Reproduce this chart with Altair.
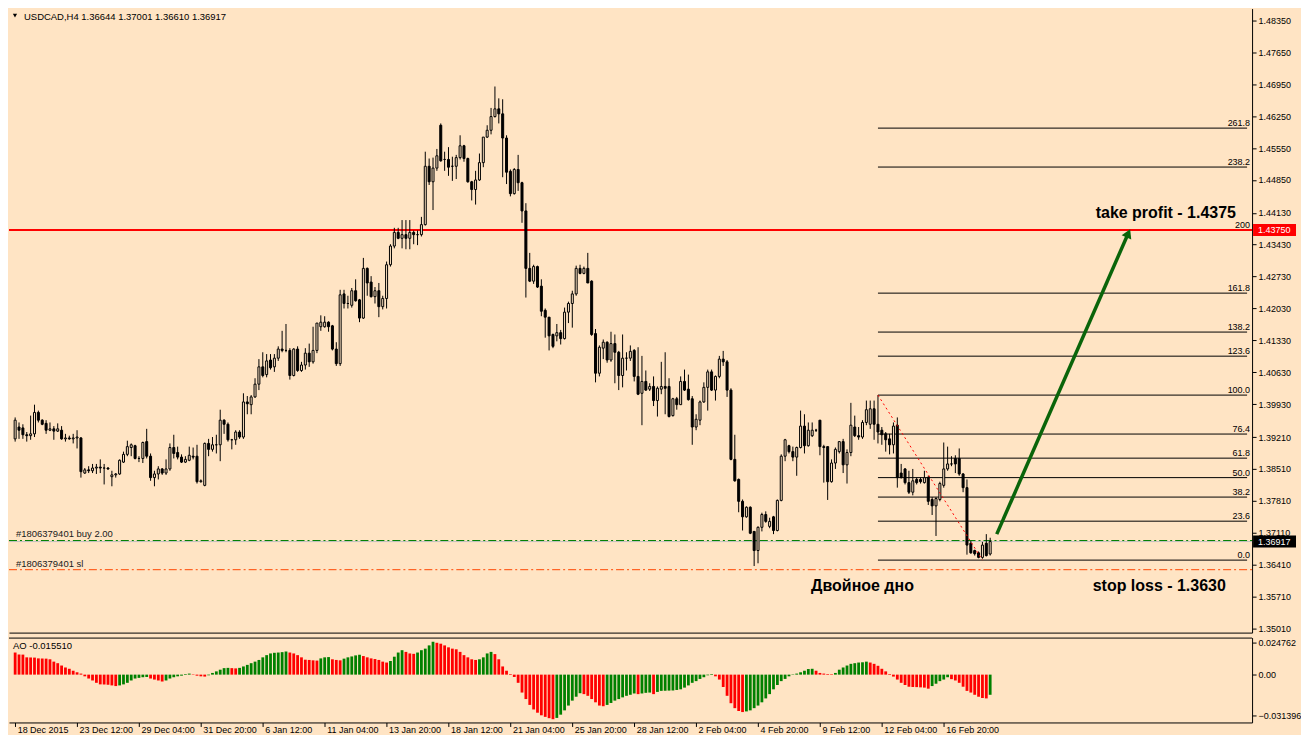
import altair as alt
import pandas as pd

# ---------------- data ----------------
opens = [1.3917,1.3943,1.3941,1.3926,1.3924,1.3928,1.3975,1.3958,1.3951,1.3936,1.3939,1.3934,1.3936,1.3917,1.3919,1.3917,1.3919,1.3919,1.3842,1.3849,
1.3847,1.3853,1.3855,1.3853,1.3853,1.3834,1.3838,1.3840,1.3866,1.3883,1.3898,1.3902,1.3874,1.3874,1.3911,1.3879,1.3832,1.3840,1.3851,1.3842,
1.3851,1.3898,1.3887,1.3877,1.3866,1.3870,1.3879,1.3879,1.3823,1.3815,1.3907,1.3894,1.3904,1.3904,1.3958,1.3949,1.3915,1.3915,1.3932,1.3921,
1.3998,1.3992,1.4009,1.4037,1.4075,1.4058,1.4090,1.4075,1.4094,1.4114,1.4111,1.4111,1.4056,1.4114,1.4067,1.4079,1.4105,1.4086,1.4111,1.4163,
1.4163,1.4173,1.4165,1.4114,1.4082,1.4235,1.4214,1.4210,1.4242,1.4222,1.4182,1.4291,1.4261,1.4229,1.4242,1.4207,1.4225,1.4299,1.4340,1.4370,
1.4357,1.4365,1.4357,1.4370,1.4365,1.4365,1.4387,1.4515,1.4481,1.4511,1.4605,1.4530,1.4530,1.4515,1.4515,1.4534,1.4560,1.4532,1.4481,1.4464,
1.4485,1.4523,1.4579,1.4594,1.4624,1.4641,1.4630,1.4577,1.4504,1.4455,1.4508,1.4479,1.4417,1.4291,1.4263,1.4295,1.4252,1.4199,1.4184,1.4146,
1.4143,1.4150,1.4137,1.4195,1.4214,1.4235,1.4291,1.4280,1.4291,1.4263,1.4148,1.4061,1.4116,1.4129,1.4090,1.4126,1.4107,1.4056,1.4094,1.4094,
1.4111,1.4054,1.4017,1.4043,1.4026,1.4032,1.4001,1.4026,1.4032,1.4032,1.3968,1.4005,1.3992,1.4043,1.4026,1.4005,1.3943,1.3958,1.3998,1.4030,
1.4064,1.4024,1.4054,1.4092,1.4086,1.4024,1.3872,1.3828,1.3780,1.3746,1.3767,1.3714,1.3672,1.3723,1.3751,1.3725,1.3746,1.3716,1.3782,1.3879,
1.3902,1.3889,1.3877,1.3898,1.3945,1.3902,1.3924,1.3936,1.3958,1.3900,1.3900,1.3823,1.3864,1.3889,1.3911,1.3860,1.3887,1.3943,1.3924,1.3921,
1.3953,1.3949,1.3983,1.3949,1.3936,1.3928,1.3917,1.3904,1.3947,1.3842,1.3851,1.3821,1.3800,1.3828,1.3828,1.3821,1.3832,1.3784,1.3770,1.3784,
1.3815,1.3851,1.3862,1.3874,1.3874,1.3840,1.3810,1.3688,1.3672,1.3667,1.3657,1.3688,1.36644]
highs = [1.3964,1.3953,1.3949,1.3932,1.3968,1.3992,1.3979,1.3960,1.3958,1.3953,1.3945,1.3951,1.3945,1.3928,1.3924,1.3928,1.3936,1.3921,1.3853,1.3857,
1.3862,1.3862,1.3872,1.3862,1.3855,1.3847,1.3842,1.3872,1.3889,1.3913,1.3907,1.3904,1.3879,1.3911,1.3939,1.3885,1.3847,1.3857,1.3853,1.3872,
1.3907,1.3926,1.3900,1.3883,1.3879,1.3900,1.3898,1.3904,1.3828,1.3909,1.3917,1.3921,1.3926,1.3981,1.3960,1.3953,1.3917,1.3936,1.3936,1.4017,
1.4011,1.4013,1.4050,1.4092,1.4107,1.4103,1.4103,1.4103,1.4120,1.4154,1.4169,1.4116,1.4116,1.4120,1.4086,1.4116,1.4126,1.4163,1.4171,1.4188,
1.4186,1.4175,1.4167,1.4129,1.4244,1.4244,1.4231,1.4248,1.4267,1.4224,1.4314,1.4293,1.4274,1.4250,1.4259,1.4231,1.4306,1.4344,1.4380,1.4380,
1.4397,1.4397,1.4397,1.4374,1.4374,1.4404,1.4547,1.4532,1.4534,1.4553,1.4609,1.4547,1.4557,1.4536,1.4540,1.4583,1.4562,1.4534,1.4483,1.4505,
1.4543,1.4579,1.4605,1.4643,1.4690,1.4664,1.4662,1.4583,1.4508,1.4511,1.4540,1.4481,1.4434,1.4325,1.4299,1.4297,1.4267,1.4203,1.4184,1.4148,
1.4169,1.4156,1.4205,1.4218,1.4242,1.4297,1.4299,1.4295,1.4325,1.4265,1.4158,1.4122,1.4135,1.4131,1.4152,1.4146,1.4110,1.4146,1.4107,1.4122,
1.4114,1.4118,1.4099,1.4067,1.4039,1.4054,1.4032,1.4086,1.4107,1.4050,1.4007,1.4009,1.4054,1.4069,1.4058,1.4011,1.3971,1.4001,1.4041,1.4069,
1.4069,1.4056,1.4099,1.4110,1.4090,1.4028,1.3926,1.3830,1.3784,1.3769,1.3769,1.3714,1.3725,1.3755,1.3758,1.3744,1.3748,1.3784,1.3883,1.3917,
1.3904,1.3900,1.3900,1.3979,1.3971,1.3953,1.3953,1.3939,1.3958,1.3904,1.3900,1.3872,1.3898,1.3911,1.3917,1.3894,1.3996,1.3968,1.3943,1.3958,
1.4001,1.4001,1.4001,1.4013,1.3943,1.3932,1.3928,1.3953,1.3964,1.3862,1.3853,1.3847,1.3851,1.3832,1.3832,1.3847,1.3836,1.3789,1.3789,1.3823,
1.3909,1.3900,1.3879,1.3881,1.3896,1.3842,1.3828,1.3693,1.3674,1.3670,1.3691,1.3708,1.37001]
lows = [1.3911,1.3917,1.3917,1.3911,1.3915,1.3921,1.3953,1.3947,1.3928,1.3934,1.3915,1.3932,1.3915,1.3911,1.3915,1.3907,1.3896,1.3832,1.3840,1.3842,
1.3842,1.3840,1.3842,1.3817,1.3849,1.3813,1.3832,1.3838,1.3864,1.3879,1.3879,1.3872,1.3866,1.3864,1.3874,1.3825,1.3813,1.3828,1.3838,1.3838,
1.3847,1.3874,1.3872,1.3864,1.3864,1.3868,1.3872,1.3819,1.3821,1.3813,1.3879,1.3889,1.3885,1.3868,1.3928,1.3911,1.3894,1.3904,1.3917,1.3917,
1.3971,1.3971,1.4007,1.4024,1.4052,1.4052,1.4069,1.4064,1.4088,1.4107,1.4107,1.4047,1.4054,1.4064,1.4064,1.4069,1.4075,1.4082,1.4105,1.4154,
1.4161,1.4152,1.4111,1.4077,1.4077,1.4203,1.4203,1.4205,1.4218,1.4173,1.4180,1.4231,1.4227,1.4214,1.4184,1.4201,1.4203,1.4295,1.4335,1.4355,
1.4335,1.4333,1.4333,1.4344,1.4342,1.4361,1.4385,1.4474,1.4419,1.4505,1.4525,1.4505,1.4494,1.4483,1.4487,1.4530,1.4525,1.4479,1.4440,1.4431,
1.4483,1.4513,1.4577,1.4585,1.4622,1.4609,1.4491,1.4476,1.4449,1.4453,1.4461,1.4391,1.4227,1.4261,1.4257,1.4248,1.4186,1.4139,1.4111,1.4116,
1.4131,1.4124,1.4135,1.4171,1.4161,1.4231,1.4278,1.4278,1.4259,1.4143,1.4041,1.4054,1.4092,1.4084,1.4086,1.4039,1.4024,1.4030,1.4067,1.4088,
1.4043,1.4013,1.3947,1.4022,1.4022,1.3989,1.3966,1.4015,1.3971,1.3964,1.3966,1.3981,1.3992,1.4022,1.4001,1.3904,1.3936,1.3947,1.3996,1.3979,
1.4022,1.4001,1.4050,1.4077,1.4009,1.3870,1.3823,1.3756,1.3716,1.3744,1.3708,1.3638,1.3644,1.3714,1.3733,1.3721,1.3708,1.3714,1.3780,1.3868,
1.3885,1.3868,1.3836,1.3896,1.3885,1.3900,1.3921,1.3932,1.3881,1.3821,1.3783,1.3821,1.3851,1.3885,1.3842,1.3819,1.3879,1.3921,1.3915,1.3917,
1.3947,1.3939,1.3915,1.3907,1.3904,1.3889,1.3883,1.3885,1.3810,1.3830,1.3817,1.3796,1.3793,1.3817,1.3819,1.3819,1.3772,1.3750,1.3704,1.3780,
1.3810,1.3847,1.3857,1.3842,1.3836,1.3800,1.3663,1.3665,1.3661,1.3655,1.3654,1.3659,1.36610]
closes = [1.3958,1.3936,1.3926,1.3924,1.3928,1.3975,1.3958,1.3949,1.3936,1.3939,1.3934,1.3939,1.3917,1.3919,1.3917,1.3919,1.3921,1.3845,1.3849,1.3847,
1.3853,1.3855,1.3853,1.3853,1.3851,1.3838,1.3840,1.3870,1.3883,1.3900,1.3904,1.3874,1.3874,1.3909,1.3879,1.3832,1.3840,1.3851,1.3842,1.3851,
1.3898,1.3885,1.3877,1.3866,1.3872,1.3881,1.3877,1.3823,1.3825,1.3907,1.3894,1.3904,1.3904,1.3958,1.3949,1.3915,1.3915,1.3932,1.3921,1.3998,
1.3994,1.4009,1.4037,1.4075,1.4056,1.4088,1.4073,1.4094,1.4114,1.4111,1.4111,1.4056,1.4114,1.4067,1.4079,1.4105,1.4086,1.4111,1.4171,1.4173,
1.4173,1.4163,1.4114,1.4082,1.4233,1.4214,1.4214,1.4242,1.4220,1.4182,1.4291,1.4259,1.4229,1.4242,1.4207,1.4225,1.4299,1.4340,1.4370,1.4357,
1.4365,1.4357,1.4370,1.4365,1.4365,1.4387,1.4515,1.4481,1.4511,1.4538,1.4527,1.4530,1.4513,1.4515,1.4534,1.4560,1.4532,1.4481,1.4464,1.4485,
1.4523,1.4579,1.4594,1.4624,1.4641,1.4630,1.4577,1.4502,1.4455,1.4508,1.4479,1.4417,1.4291,1.4263,1.4295,1.4250,1.4197,1.4184,1.4143,1.4120,
1.4150,1.4137,1.4195,1.4214,1.4235,1.4291,1.4280,1.4291,1.4259,1.4146,1.4061,1.4118,1.4129,1.4090,1.4126,1.4107,1.4056,1.4094,1.4094,1.4109,
1.4054,1.4015,1.4043,1.4024,1.4032,1.4001,1.4028,1.4032,1.4028,1.3966,1.4005,1.3992,1.4043,1.4024,1.4003,1.3943,1.3960,1.3998,1.4030,1.4064,
1.4024,1.4054,1.4092,1.4086,1.4024,1.3872,1.3825,1.3780,1.3746,1.3767,1.3710,1.3672,1.3723,1.3751,1.3736,1.3736,1.3716,1.3782,1.3879,1.3915,
1.3889,1.3877,1.3898,1.3945,1.3902,1.3936,1.3936,1.3936,1.3900,1.3898,1.3823,1.3864,1.3894,1.3911,1.3860,1.3887,1.3947,1.3924,1.3921,1.3953,
1.3981,1.3983,1.3949,1.3932,1.3926,1.3915,1.3904,1.3945,1.3832,1.3832,1.3821,1.3800,1.3825,1.3821,1.3823,1.3832,1.3780,1.3770,1.3786,1.3819,
1.3851,1.3862,1.3862,1.3862,1.3840,1.3810,1.3684,1.3667,1.3665,1.3657,1.3684,1.3661,1.36917]

ao_values = [0.0170,0.0155,0.0154,0.0133,0.0132,0.0131,0.0125,0.0124,0.0123,0.0118,0.0100,0.0088,0.0070,0.0055,0.0045,0.0030,0.0018,0.0008,-0.0013,-0.0030,
-0.0045,-0.0063,-0.0075,-0.0076,-0.0078,-0.0083,-0.0088,-0.0083,-0.0075,-0.0063,-0.0045,-0.0030,-0.0025,-0.0020,-0.0018,-0.0030,-0.0038,-0.0045,-0.0053,-0.0045,
-0.0030,-0.0020,-0.0013,-0.0008,0.0005,0.0008,0.0003,-0.0008,-0.0013,-0.0015,-0.0005,0.0013,0.0025,0.0038,0.0050,0.0052,0.0050,0.0048,0.0052,0.0063,
0.0075,0.0088,0.0100,0.0113,0.0133,0.0150,0.0163,0.0168,0.0170,0.0173,0.0178,0.0170,0.0163,0.0150,0.0133,0.0115,0.0113,0.0110,0.0108,0.0125,
0.0133,0.0135,0.0118,0.0113,0.0110,0.0123,0.0133,0.0140,0.0148,0.0153,0.0143,0.0133,0.0125,0.0120,0.0113,0.0100,0.0093,0.0105,0.0138,0.0170,
0.0188,0.0175,0.0163,0.0160,0.0170,0.0188,0.0200,0.0225,0.0253,0.0245,0.0238,0.0225,0.0210,0.0200,0.0195,0.0175,0.0150,0.0133,0.0118,0.0113,
0.0118,0.0133,0.0163,0.0175,0.0158,0.0118,0.0063,0.0030,0.0005,-0.0018,-0.0063,-0.0138,-0.0188,-0.0233,-0.0268,-0.0293,-0.0313,-0.0325,-0.0335,-0.0343,
-0.0333,-0.0308,-0.0275,-0.0238,-0.0200,-0.0170,-0.0143,-0.0150,-0.0163,-0.0188,-0.0213,-0.0238,-0.0243,-0.0233,-0.0218,-0.0200,-0.0188,-0.0175,-0.0163,-0.0155,
-0.0145,-0.0150,-0.0145,-0.0140,-0.0138,-0.0150,-0.0133,-0.0125,-0.0124,-0.0123,-0.0122,-0.0118,-0.0113,-0.0100,-0.0083,-0.0063,-0.0050,-0.0033,-0.0020,-0.0005,
0.0005,-0.0013,-0.0038,-0.0095,-0.0163,-0.0220,-0.0258,-0.0280,-0.0288,-0.0283,-0.0275,-0.0258,-0.0238,-0.0213,-0.0183,-0.0150,-0.0113,-0.0080,-0.0050,-0.0033,
-0.0013,-0.0003,0.0008,0.0018,0.0030,0.0043,0.0045,0.0030,0.0013,0.0008,0.0005,0.0004,0.0013,0.0038,0.0055,0.0070,0.0083,0.0088,0.0093,0.0095,
0.0100,0.0093,0.0083,0.0068,0.0045,0.0025,0.0005,-0.0015,-0.0038,-0.0063,-0.0080,-0.0093,-0.0095,-0.0096,-0.0098,-0.0100,-0.0108,-0.0088,-0.0070,-0.0050,
-0.0038,-0.0020,-0.0035,-0.0045,-0.0063,-0.0093,-0.0125,-0.0138,-0.0155,-0.0170,-0.0180,-0.0183,-0.015510]

x_tick_bars = [0, 16, 32, 48, 64, 80, 96, 112, 128, 144, 160, 176, 192, 208, 224, 240]
x_tick_labels = ["18 Dec 2015", "23 Dec 12:00", "29 Dec 04:00", "31 Dec 20:00", "6 Jan 12:00",
                 "11 Jan 04:00", "13 Jan 20:00", "18 Jan 12:00", "21 Jan 04:00", "25 Jan 20:00",
                 "28 Jan 12:00", "2 Feb 04:00", "4 Feb 20:00", "9 Feb 12:00", "12 Feb 04:00", "16 Feb 20:00"]
price_ticks = [1.48350, 1.47650, 1.46950, 1.46250, 1.45550, 1.44850, 1.44130, 1.43430, 1.42730, 1.42030,
               1.41330, 1.40630, 1.39930, 1.39210, 1.38510, 1.37810, 1.37110, 1.36410, 1.35710, 1.35010]
ao_ticks = [0.024762, 0.0, -0.031396]

fib_levels = [0.0, 23.6, 38.2, 50.0, 61.8, 76.4, 100.0, 123.6, 138.2, 161.8, 200.0, 238.2, 261.8]
fib_texts = ["0.0", "23.6", "38.2", "50.0", "61.8", "76.4", "100.0", "123.6", "138.2", "161.8", "200", "238.2", "261.8"]
fib_low, fib_high = 1.3651, 1.4013
fib_start_bar, fib_low_bar = 223, 250

take_profit = 1.4375
stop_loss = 1.3630
buy_price = 1.3694
bid_price = 1.36917
arrow_from = (253.7, 1.3708)
arrow_to = (287.7, 1.4368)

# ---------------- styling ----------------
BG = "#FFE4C4"
FONT = "Liberation Sans"
W, H1, H2 = 1245, 625, 85
XMIN, XMAX = -0.3, 318.4
YMIN, YMAX = 1.3492, 1.4861
AOMIN, AOMAX = -0.0368, 0.0285

xscale = alt.Scale(domain=[XMIN, XMAX], nice=False, zero=False)
xaxis_price = alt.Axis(labels=False, ticks=False, domain=True, domainColor="black", grid=False, title=None)
yscale = alt.Scale(domain=[YMIN, YMAX], nice=False, zero=False)
yaxis = alt.Axis(orient="right", values=price_ticks, format=".5f", grid=False, title=None,
                 labelFont=FONT, labelFontSize=9, labelColor="black", tickColor="black",
                 domainColor="black", tickSize=4, labelPadding=2)

def X(f):
    return alt.X(f, type="quantitative", scale=xscale, axis=xaxis_price)

def Y(f):
    return alt.Y(f, type="quantitative", scale=yscale, axis=yaxis)

n = len(closes)
candles = pd.DataFrame({
    "i": list(range(n)), "o": opens, "h": highs, "l": lows, "c": closes,
    "fillc": [BG if closes[k] >= opens[k] else "#000000" for k in range(n)],
})

wicks = alt.Chart(candles).mark_rule(color="black", strokeWidth=1).encode(
    x=X("i"), y=Y("l"), y2="h")
bodies = alt.Chart(candles).mark_bar(size=2, stroke="black", strokeWidth=1).encode(
    x=X("i"), y=Y("o"), y2="c", fill=alt.Fill("fillc:N", scale=None))

fib_df = pd.DataFrame({
    "p": [fib_low + lv / 100.0 * (fib_high - fib_low) for lv in fib_levels],
    "t": fib_texts, "x0": fib_start_bar, "x1": XMAX,
})
fib_lines = alt.Chart(fib_df).mark_rule(color="black", strokeWidth=1).encode(x=X("x0"), x2="x1", y=Y("p"))
fib_labels = alt.Chart(fib_df).mark_text(align="right", baseline="alphabetic", dy=-2, font=FONT,
                                          fontSize=9, color="black").encode(
    x=alt.value(W - 2), y=Y("p"), text="t:N")

trend_df = pd.DataFrame({"x0": [fib_start_bar], "y0": [fib_high], "x1": [fib_low_bar], "y1": [fib_low]})
trend = alt.Chart(trend_df).mark_rule(color="red", strokeWidth=1, strokeDash=[2, 3]).encode(
    x=X("x0"), y=Y("y0"), x2="x1", y2="y1")

hl_df = pd.DataFrame({"p": [take_profit]})
tp_line = alt.Chart(hl_df).mark_rule(color="#FF0000", strokeWidth=2).encode(
    x=alt.value(0), x2=alt.value(W), y=Y("p"))

bid_df = pd.DataFrame({"p": [bid_price]})
bid_line = alt.Chart(bid_df).mark_rule(color="#C0C0C0", strokeWidth=1).encode(
    x=alt.value(0), x2=alt.value(W), y=Y("p"))
buy_df = pd.DataFrame({"p": [buy_price], "t": ["#1806379401 buy 2.00"]})
buy_line = alt.Chart(buy_df).mark_rule(color="#008000", strokeWidth=1, strokeDash=[8, 3, 2, 3]).encode(
    x=alt.value(0), x2=alt.value(W), y=Y("p"))
buy_text = alt.Chart(buy_df).mark_text(align="left", baseline="alphabetic", dy=-4, font=FONT, fontSize=9.5,
                                        color="#202020").encode(x=alt.value(7), y=Y("p"), text="t:N")
sl_df = pd.DataFrame({"p": [stop_loss], "t": ["#1806379401 sl"]})
sl_line = alt.Chart(sl_df).mark_rule(color="#FF4500", strokeWidth=1, strokeDash=[8, 3, 2, 3]).encode(
    x=alt.value(0), x2=alt.value(W), y=Y("p"))
sl_text = alt.Chart(sl_df).mark_text(align="left", baseline="alphabetic", dy=-3, font=FONT, fontSize=9.5,
                                      color="#202020").encode(x=alt.value(7), y=Y("p"), text="t:N")

arrow_df = pd.DataFrame({"x0": [arrow_from[0]], "y0": [arrow_from[1]], "x1": [arrow_to[0]], "y1": [arrow_to[1]]})
arrow_line = alt.Chart(arrow_df).mark_rule(color="#0A640A", strokeWidth=3.5).encode(
    x=X("x0"), y=Y("y0"), x2="x1", y2="y1")
arrow_head = alt.Chart(arrow_df).mark_point(shape="triangle-up", filled=True, size=110, angle=24,
                                             color="#0A640A", opacity=1).encode(x=X("x1"), y=Y("y1"))

notes_df = pd.DataFrame({
    "x": [297.4, 219.0, 295.7],
    "p": [1.4401, 1.3584, 1.3584],
    "t": ["take profit - 1.4375", "Двойное дно", "stop loss - 1.3630"],
})
notes = alt.Chart(notes_df).mark_text(align="center", baseline="alphabetic", font=FONT, fontSize=16,
                                       fontWeight="bold", color="black").encode(
    x=X("x"), y=Y("p"), text="t:N")

box_df = pd.DataFrame({"p": [take_profit, bid_price], "t": ["1.43750", "1.36917"],
                       "bc": ["#FF0000", "#000000"]})
boxes = alt.Chart(box_df).mark_rect(yOffset=-6, y2Offset=6).encode(
    x=alt.value(W + 1), x2=alt.value(W + 44), y=Y("p"), y2="p", fill=alt.Fill("bc:N", scale=None))
box_text = alt.Chart(box_df).mark_text(align="left", baseline="middle", font=FONT, fontSize=9,
                                        color="white").encode(x=alt.value(W + 6), y=Y("p"), text="t:N")

hdr_df = pd.DataFrame({"t": ["USDCAD,H4  1.36644 1.37001 1.36610 1.36917"]})
header = alt.Chart(hdr_df).mark_text(align="left", baseline="alphabetic", font=FONT, fontSize=9.5,
                                      color="black").encode(x=alt.value(15), y=alt.value(11), text="t:N")
header_tri = alt.Chart(hdr_df).mark_point(shape="triangle-down", filled=True, size=18, color="black",
                                           opacity=1).encode(x=alt.value(6), y=alt.value(7))

price_chart = alt.layer(
    fib_lines, fib_labels, tp_line, bid_line, buy_line, sl_line, buy_text, sl_text,
    wicks, bodies, trend, arrow_line, arrow_head, notes, boxes, box_text, header, header_tri,
).properties(width=W, height=H1)

# ---------------- AO panel ----------------
ao_col = []
for k, v in enumerate(ao_values):
    if k == 0:
        ao_col.append("#FF0000")
    elif v > ao_values[k - 1]:
        ao_col.append("#008000")
    elif v < ao_values[k - 1]:
        ao_col.append("#FF0000")
    else:
        ao_col.append(ao_col[-1])
ao_df = pd.DataFrame({"i": list(range(len(ao_values))), "ao": ao_values, "col": ao_col})

labels_js = "[" + ",".join("'" + s + "'" for s in x_tick_labels) + "]"
xaxis_ao = alt.Axis(values=x_tick_bars, labelExpr=labels_js + "[round(datum.value/16)]", labelAlign="left",
                    labelOffset=2, labelFont=FONT, labelFontSize=9, labelColor="black", tickSize=4,
                    tickColor="black", domainColor="black", labelPadding=-1, labelOverlap=False,
                    labelFlush=False, grid=False, title=None)
aoscale = alt.Scale(domain=[AOMIN, AOMAX], nice=False, zero=False)
aoaxis = alt.Axis(orient="right", values=ao_ticks,
                  labelExpr="datum.value == 0 ? '0.00' : format(datum.value, '.6f')",
                  labelFont=FONT, labelFontSize=9, labelColor="black", tickSize=4, tickColor="black",
                  domainColor="black", labelPadding=2, grid=False, title=None)

ao_bars = alt.Chart(ao_df).mark_bar(size=2.8).encode(
    x=alt.X("i:Q", scale=xscale, axis=xaxis_ao),
    y=alt.Y("ao:Q", scale=aoscale, axis=aoaxis), y2=alt.datum(0),
    fill=alt.Fill("col:N", scale=None))
ao_title = alt.Chart(pd.DataFrame({"t": ["AO -0.015510"]})).mark_text(
    align="left", baseline="alphabetic", font=FONT, fontSize=9.5, color="black").encode(
    x=alt.value(4), y=alt.value(11), text="t:N")
ao_top = alt.Chart(pd.DataFrame({"t": [0]})).mark_rule(color="black", strokeWidth=1).encode(
    x=alt.value(0), x2=alt.value(W), y=alt.value(0.5))

ao_chart = alt.layer(ao_bars, ao_title, ao_top).properties(width=W, height=H2)

chart = alt.vconcat(price_chart, ao_chart, spacing=4).properties(
    padding=0, background=BG
).configure_view(stroke=None, fill=BG)

chart.save("out.html", embed_options={"renderer": "svg", "actions": False})
